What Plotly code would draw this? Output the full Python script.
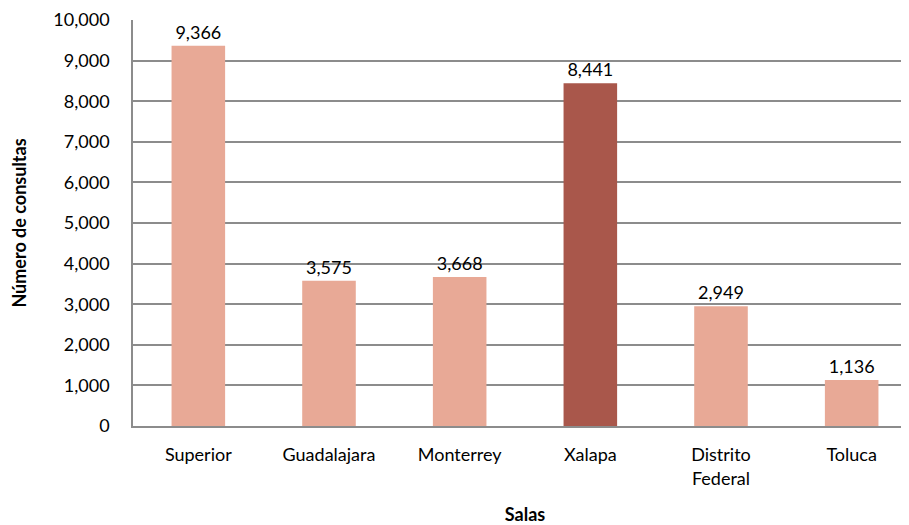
import plotly.graph_objects as go

salas = ["Superior", "Guadalajara", "Monterrey", "Xalapa", "Distrito<br>Federal", "Toluca"]
consultas = [9366, 3575, 3668, 8441, 2949, 1136]
colores = ["#E8A996", "#E8A996", "#E8A996", "#A9574B", "#E8A996", "#E8A996"]

FONT = "Lato"
SIZE = 18

fig = go.Figure(
    go.Bar(
        x=salas,
        y=consultas,
        marker=dict(color=colores, line=dict(width=0)),
        width=0.41,
        texttemplate="%{y:,}",
        textposition="outside",
        cliponaxis=False,
        textfont=dict(family=FONT, size=SIZE, color="#000000"),
    )
)

# la página tiene 8px de margen en el body, por eso los márgenes van corridos
fig.update_layout(
    width=909,
    height=525,
    margin=dict(l=125, r=0, t=12, b=107),
    paper_bgcolor="white",
    plot_bgcolor="white",
    showlegend=False,
    font=dict(family=FONT, size=SIZE, color="#000000"),
)

fig.update_yaxes(
    range=[0, 10000],
    dtick=1000,
    tickformat=",",
    showgrid=True,
    gridcolor="#8C8C8C",
    gridwidth=1.5,
    showline=True,
    linecolor="#8C8C8C",
    linewidth=1.5,
    ticks="",
    ticklabelstandoff=18,
    zeroline=False,
    automargin=False,
    title=dict(text="<b>Número de consultas</b>", font=dict(family=FONT, size=SIZE), standoff=24),
)

fig.update_xaxes(
    showline=True,
    linecolor="#8C8C8C",
    linewidth=1.5,
    ticks="",
    ticklabelstandoff=12,
    automargin=False,
    title=dict(text="<b>Salas</b>", font=dict(family=FONT, size=SIZE), standoff=21),
)

fig.write_html("out.html")
